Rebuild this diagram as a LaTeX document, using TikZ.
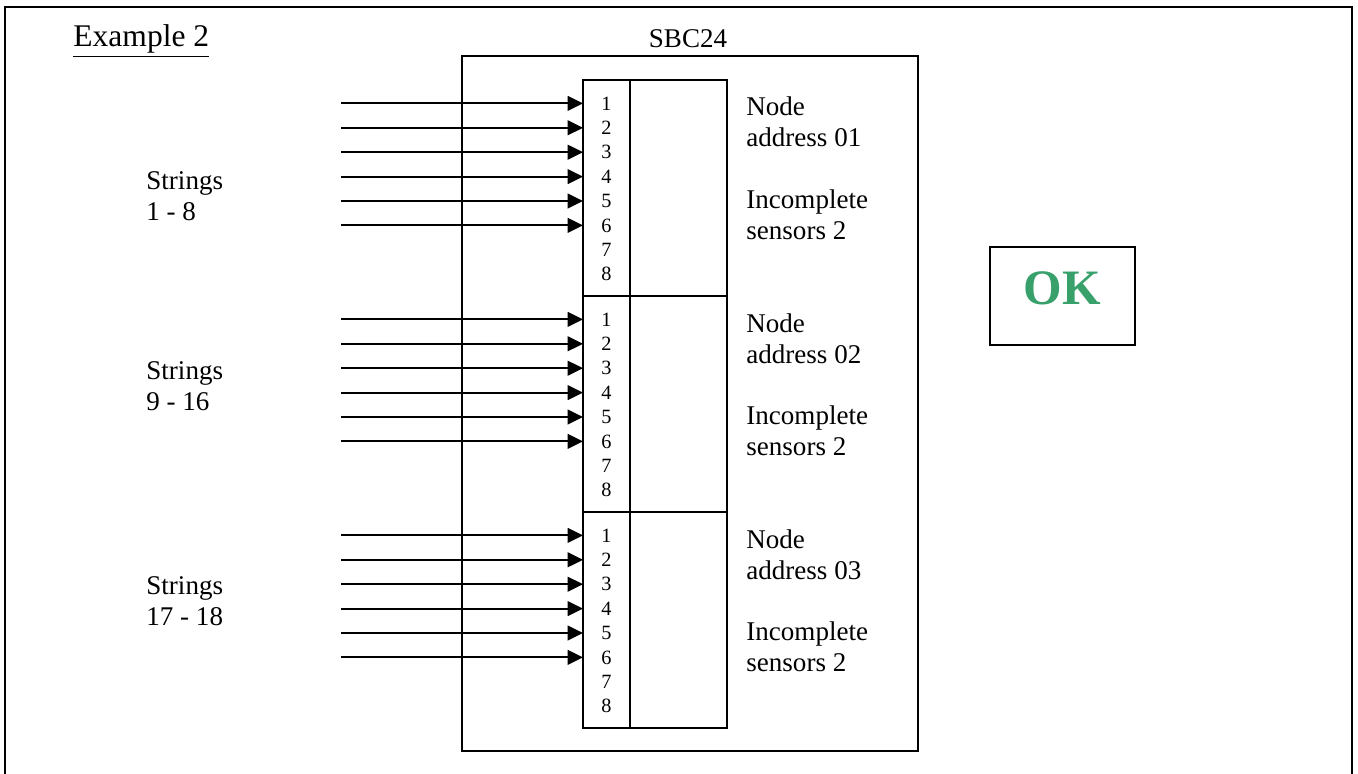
\documentclass[tikz,border=0pt]{standalone}
\usepackage{fontspec}
\setmainfont{Liberation Serif}
\usetikzlibrary{arrows.meta}
\definecolor{okgreen}{RGB}{56,160,106}

\begin{document}
\begin{tikzpicture}[
	x=0.444pt, y=-0.444pt,
	font=\fontsize{12}{13.8}\selectfont,
	>={Triangle[length=6.8pt,width=6.5pt]},
	frame/.style={draw=black, line width=1.3pt},
	board/.style={
		rectangle, draw=black, line width=0.9pt,
		anchor=north west, inner sep=0pt, outer sep=0pt,
		minimum width=202.5pt, minimum height=308.6pt
	},
	pinbox/.style={
		rectangle, draw=black, line width=0.9pt,
		anchor=north west, inner sep=0pt, outer sep=0pt,
		minimum width=20.9pt, minimum height=95.9pt
	},
	addrbox/.style={
		rectangle, draw=black, line width=0.9pt,
		anchor=north west, inner sep=0pt, outer sep=0pt,
		minimum width=43.1pt, minimum height=95.9pt
	},
	pinnum/.style={font=\fontsize{9}{10.35}\selectfont, inner sep=0pt},
	info/.style={anchor=north west, align=left, inner sep=0pt},
	okbox/.style={
		rectangle, draw=black, line width=0.9pt,
		minimum width=64.4pt, minimum height=43.5pt,
		text=okgreen, font=\fontsize{22}{26}\selectfont\bfseries,
		text depth=7pt
	},
	arr/.style={->, line width=0.9pt, black}
]

\useasboundingbox (0,0) rectangle (1358,774);

% Outer frame, open at the bottom
\draw[frame] (5,800) -- (5,7) -- (1352,7) -- (1352,800);

\node[anchor=base west, inner sep=0pt] (title) at (73,47) {\fontsize{14}{16}\selectfont\underline{Example 2}};

% Board
\node[anchor=base] (sbclbl) at (688,48) {SBC24};
\node[board] (sbc) at (462,56) {};

% Block 1, y=80
\node[pinbox] (pins1) at (583,80) {};
\node[addrbox] (addr1) at (630,80) {};
\foreach \i in {1,...,8}
	\node[pinnum] (p1-\i) at (606.5,79+24.4*\i) {\i};
\coordinate (in1) at (341,80);
\foreach \i in {1,...,6}
	\draw[arr] (p1-\i -| in1) -- (p1-\i -| pins1.west);
\node[info] (str1) at (146,171) {Strings\\1 - 8};
\node[info] (node1) at (746,96) {Node\\address 01};
\node[info] (inc1) at (746,189) {Incomplete\\sensors 2};

% Block 2, y=296
\node[pinbox] (pins2) at (583,296) {};
\node[addrbox] (addr2) at (630,296) {};
\foreach \i in {1,...,8}
	\node[pinnum] (p2-\i) at (606.5,295+24.4*\i) {\i};
\coordinate (in2) at (341,296);
\foreach \i in {1,...,6}
	\draw[arr] (p2-\i -| in2) -- (p2-\i -| pins2.west);
\node[info] (str2) at (146,361) {Strings\\9 - 16};
\node[info] (node2) at (746,313) {Node\\address 02};
\node[info] (inc2) at (746,405) {Incomplete\\sensors 2};

% Block 3, y=512
\node[pinbox] (pins3) at (583,512) {};
\node[addrbox] (addr3) at (630,512) {};
\foreach \i in {1,...,8}
	\node[pinnum] (p3-\i) at (606.5,511+24.4*\i) {\i};
\coordinate (in3) at (341,512);
\foreach \i in {1,...,6}
	\draw[arr] (p3-\i -| in3) -- (p3-\i -| pins3.west);
\node[info] (str3) at (146,576) {Strings\\17 - 18};
\node[info] (node3) at (746,529) {Node\\address 03};
\node[info] (inc3) at (746,621) {Incomplete\\sensors 2};

% Status
\node[okbox] (ok) at (1062.5,296) {OK};

\end{tikzpicture}
\end{document}
